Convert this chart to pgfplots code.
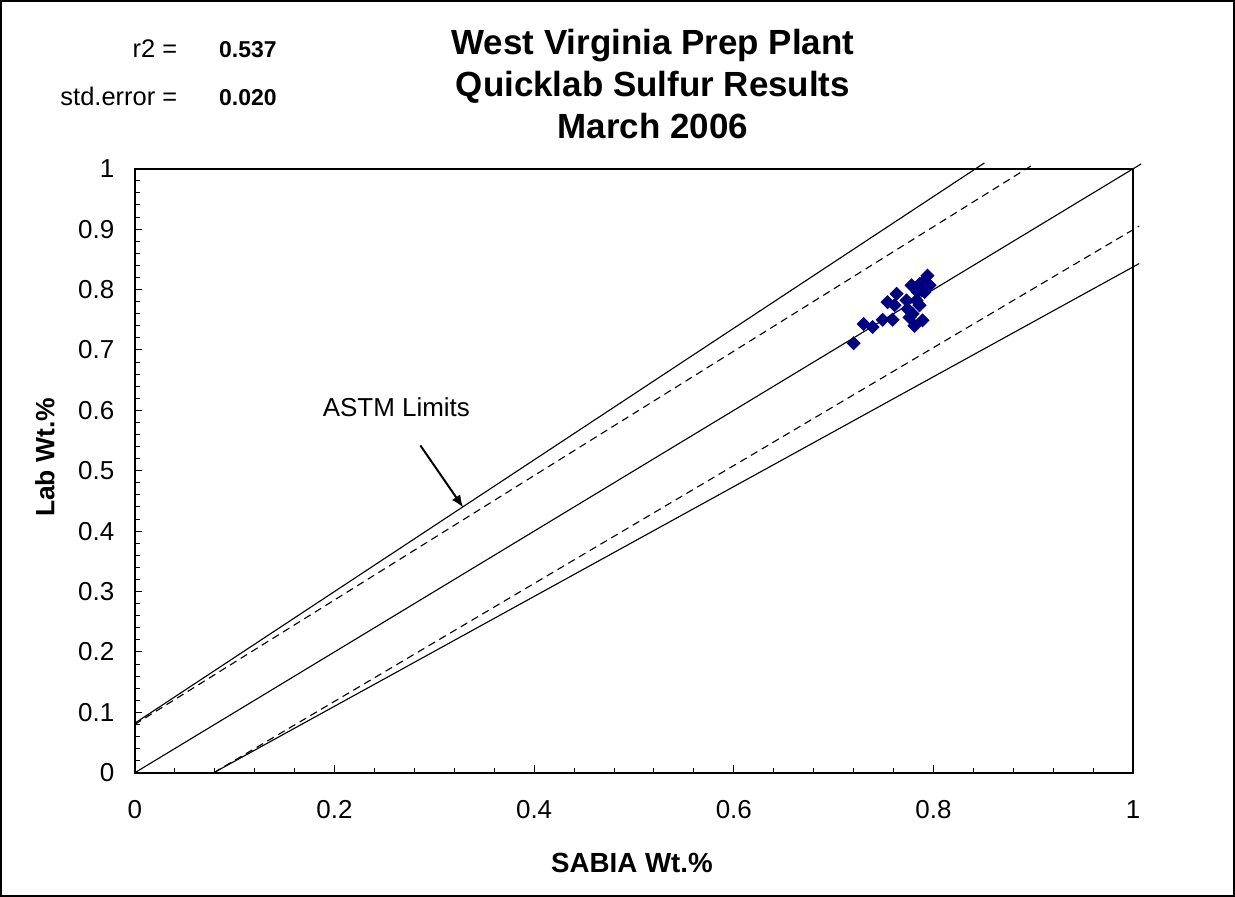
\documentclass[border=0pt]{standalone}
\usepackage{pgfplots}
\pgfplotsset{compat=1.18}
\usepackage{pgfplotstable}
\usepackage{fontspec}
\setmainfont{Liberation Sans}
\usetikzlibrary{arrows.meta}
\definecolor{navy}{RGB}{0,0,128}
\pgfplotstableread{
x y
0.720 0.711
0.730 0.743
0.739 0.738
0.749 0.750
0.759 0.750
0.754 0.779
0.763 0.793
0.761 0.774
0.774 0.768
0.776 0.754
0.781 0.740
0.789 0.749
0.779 0.760
0.783 0.782
0.786 0.774
0.778 0.807
0.786 0.809
0.794 0.823
0.796 0.807
0.791 0.796
0.784 0.796
0.791 0.815
0.773 0.782
}\scatterdata
\begin{document}
\begin{tikzpicture}
\draw[line width=0.8pt] (-53.6pt,-49.2pt) rectangle (440.4pt,309.2pt);
\begin{axis}[at={(0pt,0pt)}, anchor=south west, scale only axis,
  width=400pt, height=242pt,
  xmin=0, xmax=1, ymin=0, ymax=1, clip=false,
  axis line style={line width=0.8pt},
  tick pos=left, tick align=inside,
  major tick length=3pt, minor tick length=2pt,
  every tick/.style={black, line width=0.4pt},
  xtick={0,0.2,0.4,0.6,0.8,1}, xticklabels={0,0.2,0.4,0.6,0.8,1},
  ytick={0,0.1,0.2,0.3,0.4,0.5,0.6,0.7,0.8,0.9,1},
  yticklabels={0,0.1,0.2,0.3,0.4,0.5,0.6,0.7,0.8,0.9,1},
  minor x tick num=4, minor y tick num=4,
  /pgf/number format/assume math mode=true,
  xticklabel style={font=\fontsize{10.4}{12}\selectfont, inner sep=0pt, anchor=north, yshift=-10.8pt},
  yticklabel style={font=\fontsize{10.4}{12}\selectfont, inner sep=0pt, anchor=east, xshift=-8pt},
  xlabel={\textbf{SABIA Wt.\%}},
  ylabel={\textbf{Lab Wt.\%}},
  xlabel style={font=\fontsize{11.1}{13}\selectfont, at={(axis description cs:0.498,0)}, anchor=base, yshift=-40pt, inner sep=0pt},
  ylabel style={font=\fontsize{10.6}{12}\selectfont, at={(axis description cs:-0.09,0.522)}, anchor=center, inner sep=0pt},
]
\addplot[black, line width=0.45pt] coordinates {(0,0.082) (0.851,1.0096)};
\addplot[black, line width=0.45pt, dash pattern=on 3pt off 2pt] coordinates {(0,0.080) (0.899,1.006)};
\addplot[black, line width=0.45pt] coordinates {(0,0) (1.008,1.008)};
\addplot[black, line width=0.45pt, dash pattern=on 3pt off 2pt] coordinates {(0.079,0) (1.006,0.905)};
\addplot[black, line width=0.45pt] coordinates {(0.079,0) (1.006,0.843)};
\addplot[only marks, mark=square*, mark size=1.8pt, color=navy,
  mark options={rotate=45, fill=navy, draw=navy}] table[x=x,y=y] {\scatterdata};
\node[font=\fontsize{10.4}{12}\selectfont, anchor=center] at (axis cs:0.262,0.605) {ASTM Limits};
\draw[-{Latex[length=5pt,width=4pt]}, line width=0.8pt] (axis cs:0.286,0.542) -- (axis cs:0.329,0.439);
\end{axis}
\node[font=\bfseries\fontsize{14}{17}\selectfont, anchor=base] at (207.6pt,287.6pt) {West Virginia Prep Plant};
\node[font=\bfseries\fontsize{14}{17}\selectfont, anchor=base] at (207.6pt,270.8pt) {Quicklab Sulfur Results};
\node[font=\bfseries\fontsize{14}{17}\selectfont, anchor=base] at (207.6pt,254.0pt) {March 2006};
\node[font=\fontsize{10.2}{12}\selectfont, anchor=base east, inner sep=0pt] at (17.2pt,286.4pt) {r2 =};
\node[font=\bfseries\fontsize{9.2}{11}\selectfont, anchor=base west, inner sep=0pt] at (33.6pt,286.4pt) {0.537};
\node[font=\fontsize{10.2}{12}\selectfont, anchor=base east, inner sep=0pt] at (17.2pt,267.4pt) {std.error =};
\node[font=\bfseries\fontsize{9.2}{11}\selectfont, anchor=base west, inner sep=0pt] at (33.6pt,267.4pt) {0.020};
\end{tikzpicture}
\end{document}
